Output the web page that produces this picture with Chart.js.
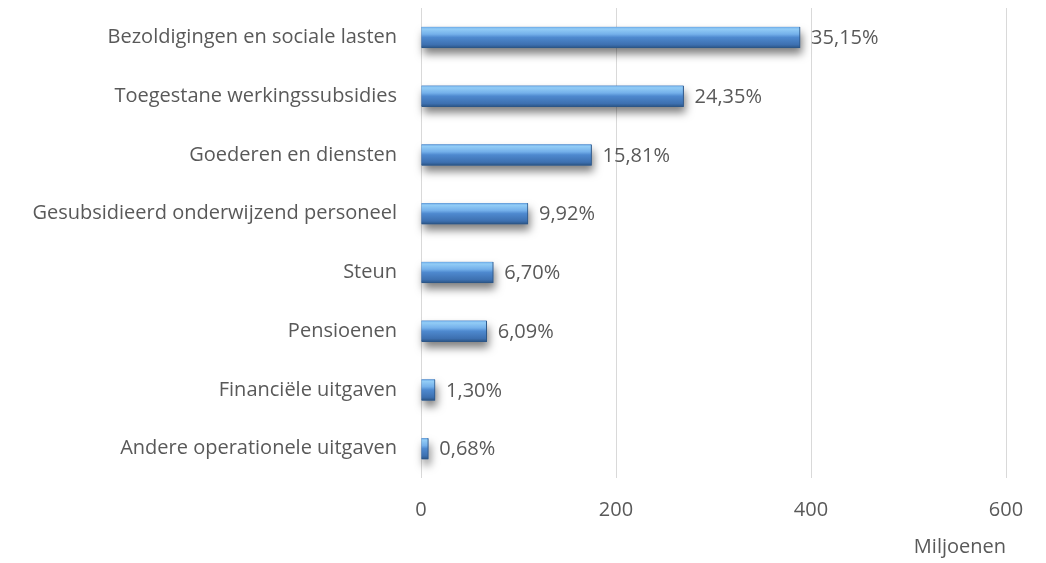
<!DOCTYPE html>
<html>
<head>
<meta charset="utf-8">
<script src="https://cdn.jsdelivr.net/npm/chart.js@4.4.0/dist/chart.umd.min.js"></script>
<style>
  html, body { margin: 0; padding: 0; background: #ffffff; }
  #wrap { width: 1046px; height: 563px; }
</style>
</head>
<body>
<div id="wrap"><canvas id="grafico"></canvas></div>
<script>
const categorieen = [
    'Bezoldigingen en sociale lasten',
    'Toegestane werkingssubsidies',
    'Goederen en diensten',
    'Gesubsidieerd onderwijzend personeel',
    'Steun',
    'Pensioenen',
    'Financiële uitgaven',
    'Andere operationele uitgaven'
];

const bedragen = [388.8, 269.3, 174.9, 109.7, 74.1, 67.4, 14.4, 7.5];

const percentages = ['35,15%', '24,35%', '15,81%', '9,92%', '6,70%', '6,09%', '1,30%', '0,68%'];

const xTicks = [0, 200, 400, 600];

const tekstKleur = '#595959';
const lettertype = "'Open Sans', sans-serif";
const barDikte = 21;

function balkKleur(context) {
    const chart = context.chart;
    const schaalY = chart.scales.y;
    if (!schaalY || context.dataIndex === undefined) return '#4a86c8';
    const midden = schaalY.getPixelForValue(context.dataIndex);
    if (!isFinite(midden)) return '#4a86c8';
    const top = midden - barDikte / 2;
    const verloop = chart.ctx.createLinearGradient(0, top, 0, top + barDikte);
    verloop.addColorStop(0, '#6aa8e6');
    verloop.addColorStop(0.1, '#92ccf6');
    verloop.addColorStop(0.35, '#74b0ea');
    verloop.addColorStop(0.5, '#4e89cf');
    verloop.addColorStop(0.85, '#3d70b0');
    verloop.addColorStop(1, '#2b5586');
    return verloop;
}

// schaduw onder de balken (los getekend, de balk zelf clipt zijn schaduw weg)
const schaduw = {
    id: 'schaduw',
    beforeDatasetsDraw(chart) {
        const ctx = chart.ctx;
        const meta = chart.getDatasetMeta(0);
        ctx.save();
        ctx.shadowColor = 'rgba(0,0,0,0.5)';
        ctx.shadowBlur = 8;
        ctx.shadowOffsetX = 2;
        ctx.shadowOffsetY = 6;
        ctx.fillStyle = '#3d70b0';
        meta.data.forEach(balk => {
            const links = Math.min(balk.base, balk.x);
            const breedte = Math.abs(balk.x - balk.base);
            ctx.fillRect(links, balk.y - balk.height / 2, breedte, balk.height);
        });
        ctx.restore();
    }
};

// percentages naast de balken
const labels = {
    id: 'labels',
    afterDatasetsDraw(chart) {
        const ctx = chart.ctx;
        const meta = chart.getDatasetMeta(0);
        ctx.save();
        ctx.font = '20px ' + lettertype;
        ctx.fillStyle = tekstKleur;
        ctx.textAlign = 'left';
        ctx.textBaseline = 'middle';
        meta.data.forEach((balk, i) => {
            ctx.fillText(percentages[i], balk.x + 11, balk.y + 1);
        });
        ctx.restore();
    }
};

const grafiek = new Chart(document.getElementById('grafico'), {
    type: 'bar',
    data: {
        labels: categorieen,
        datasets: [{
            data: bedragen,
            backgroundColor: balkKleur,
            borderColor: '#2c5687',
            borderWidth: { top: 0, left: 0, right: 1, bottom: 1 },
            borderSkipped: 'start',
            barThickness: barDikte
        }]
    },
    options: {
        indexAxis: 'y',
        responsive: true,
        maintainAspectRatio: false,
        animation: false,
        layout: { padding: { top: 8, right: 40, left: 0, bottom: 0 } },
        plugins: {
            legend: { display: false },
            tooltip: { enabled: false }
        },
        scales: {
            x: {
                min: 0,
                max: 600,
                afterBuildTicks(as) { as.ticks = xTicks.map(v => ({ value: v })); },
                afterFit(s) { s.height = 85; s.paddingLeft = 0; s.paddingRight = 0; },
                grid: { color: '#d9d9d9', lineWidth: 1, drawTicks: false },
                border: { display: false },
                ticks: {
                    color: tekstKleur,
                    font: { family: lettertype, size: 20 },
                    padding: 20
                },
                title: {
                    display: true,
                    text: 'Miljoenen',
                    align: 'end',
                    color: tekstKleur,
                    font: { family: lettertype, size: 20 },
                    padding: { top: 8, bottom: 4 }
                }
            },
            y: {
                afterFit(s) { s.width = 421; s.paddingTop = 0; s.paddingBottom = 0; },
                grid: { display: false, drawTicks: false },
                border: { display: false },
                ticks: {
                    color: tekstKleur,
                    font: { family: lettertype, size: 20 },
                    padding: 24
                }
            }
        }
    },
    plugins: [schaduw, labels]
});
</script>
</body>
</html>
